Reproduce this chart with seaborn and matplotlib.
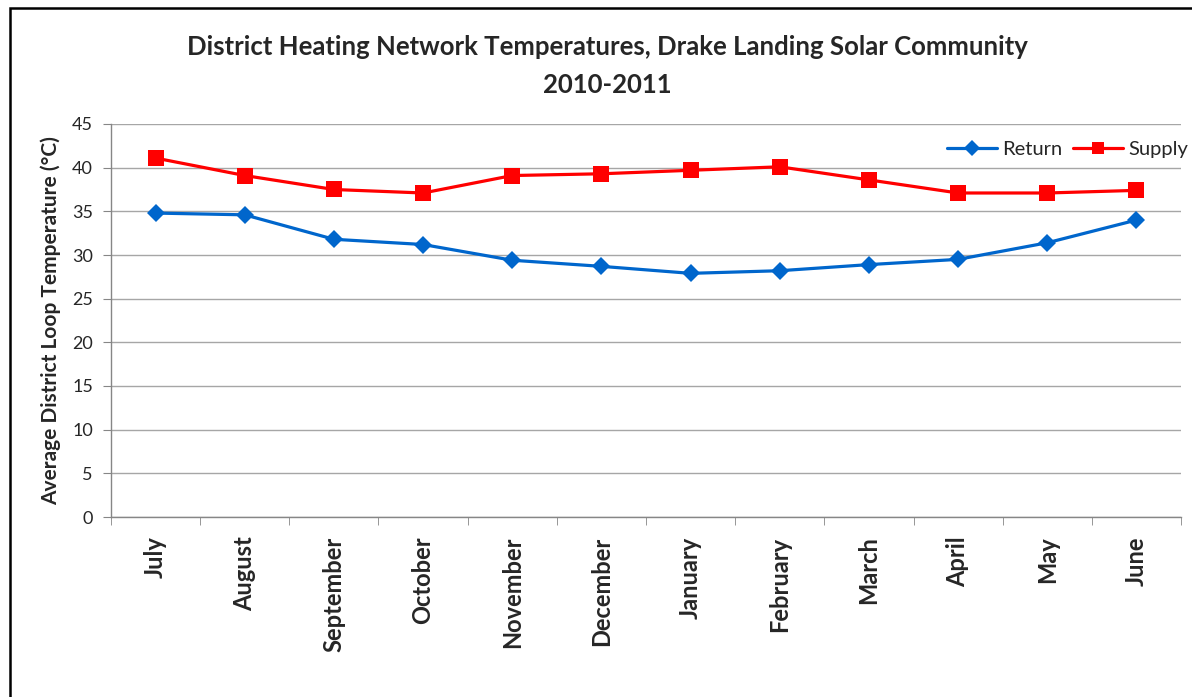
import pandas as pd
import numpy as np
import seaborn as sns
import matplotlib.pyplot as plt
from matplotlib.patches import Rectangle
from matplotlib.ticker import FixedLocator

# -----------------------------------------------
# Data
# -----------------------------------------------
months = ['July', 'August', 'September', 'October', 'November', 'December',
          'January', 'February', 'March', 'April', 'May', 'June']
return_temp = [34.8, 34.6, 31.8, 31.2, 29.4, 28.7, 27.9, 28.2, 28.9, 29.5, 31.4, 34.0]
supply_temp = [41.1, 39.1, 37.5, 37.1, 39.1, 39.3, 39.7, 40.1, 38.6, 37.1, 37.1, 37.4]
series_names = ['Return', 'Supply']
y_ticks = list(range(0, 50, 5))

df = pd.DataFrame({
    'Month': months * 2,
    'Temp': return_temp + supply_temp,
    'Series': ['Return'] * len(months) + ['Supply'] * len(months),
})

# -----------------------------------------------
# Style
# -----------------------------------------------
sns.set_style('white')
plt.rcParams['font.family'] = ['Lato', 'DejaVu Sans']

fig = plt.figure(figsize=(11.92, 6.97), dpi=100)
ax = fig.add_axes([111 / 1192, 1 - 517 / 697, (1181 - 111) / 1192, (517 - 124) / 697])

palette = {'Return': '#0066CC', 'Supply': '#FF0000'}
markers = {'Return': 'D', 'Supply': 's'}

sns.lineplot(data=df, x='Month', y='Temp', hue='Series', style='Series',
             hue_order=series_names, style_order=series_names,
             palette=palette, markers=markers, dashes=False, sort=False,
             linewidth=2.3, markersize=11, markeredgewidth=0, ax=ax)

# diamonds a little smaller than the squares, like the original
for line in ax.get_lines():
    if line.get_marker() == 'D':
        line.set_markersize(9.5)

ax.set_xlim(-0.5, len(months) - 0.5)
ax.set_ylim(0, 45)
ax.set_yticks(y_ticks)
ax.yaxis.grid(True, color='#a6a6a6', linewidth=1)
ax.xaxis.grid(False)

for side in ['top', 'right']:
    ax.spines[side].set_visible(False)
for side in ['left', 'bottom']:
    ax.spines[side].set_color('#868686')
    ax.spines[side].set_linewidth(1)

ax.tick_params(axis='y', which='major', left=True, length=6, color='#868686',
               labelsize=13, pad=7)
ax.set_xticks(range(len(months)))
ax.set_xticklabels(months, rotation=90, fontweight='bold', fontsize=17)
ax.tick_params(axis='x', which='major', length=0, pad=14)
ax.xaxis.set_minor_locator(FixedLocator(np.arange(-0.5, len(months), 1.0)))
ax.tick_params(axis='x', which='minor', bottom=True, length=6, color='#868686')

ax.set_xlabel('')
ax.set_ylabel('Average District Loop Temperature (°C)', fontweight='bold',
              fontsize=15, labelpad=8)

leg = ax.legend(loc='center right', bbox_to_anchor=(1.0065, 0.934), ncol=2,
                frameon=False, fontsize=14.5, handlelength=2.5,
                columnspacing=0.5, handletextpad=0.25, borderaxespad=0,
                borderpad=0)
for h in leg.get_lines():
    h.set_markersize(8.5 if h.get_marker() == 's' else 8)

fig.text(607 / 1192, 1 - 47 / 697, 'District Heating Network Temperatures, Drake Landing Solar Community',
         ha='center', va='center', fontsize=18.5, fontweight='bold')
fig.text(607 / 1192, 1 - 85 / 697, '2010-2011',
         ha='center', va='center', fontsize=18.5, fontweight='bold')

# chart border (only left and top edge fall inside the image)
fig.add_artist(Rectangle((10 / 1192, -0.5), 2, 0.5 + 1 - 8 / 697,
                         transform=fig.transFigure, fill=False,
                         edgecolor='black', linewidth=1.8))

fig.savefig('out.png', dpi=100)
plt.close(fig)
